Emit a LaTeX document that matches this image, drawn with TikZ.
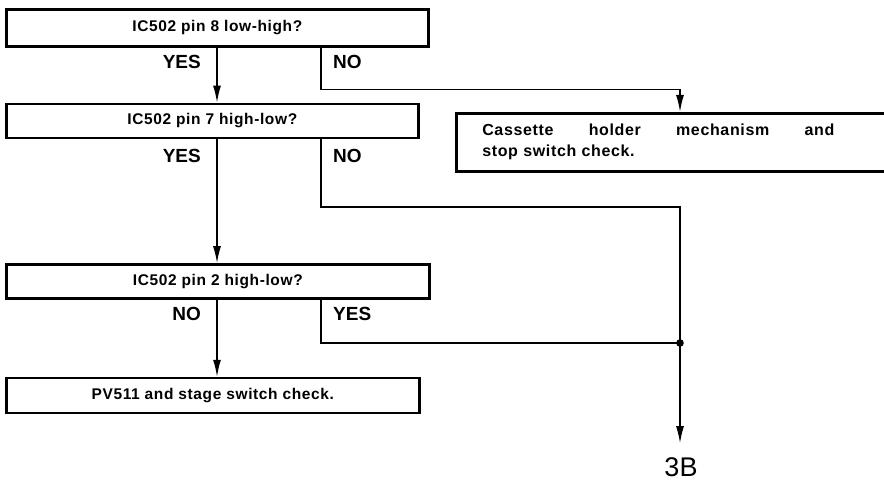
\documentclass[tikz,border=0pt]{standalone}
\usepackage{fontspec}
\setmainfont{Liberation Sans}
\newfontfamily\boxfont[LetterSpace=4]{Liberation Sans}
\usetikzlibrary{positioning, calc, arrows.meta}

\tikzstyle{Box} = [draw, line width=2.6pt, inner sep=0pt,
  font=\boxfont\fontsize{15.5}{21}\selectfont\bfseries]
\tikzstyle{Answer} = [inner sep=0pt, font=\fontsize{19}{21}\selectfont\bfseries]
\tikzstyle{Flow} = [line width=1.5pt, -{Latex[length=17pt, width=8pt]}]
\tikzstyle{Branch} = [line width=1.5pt]

\begin{document}
\begin{tikzpicture}[x=1pt, y=-1pt]
    \useasboundingbox (0,0) rectangle (884,484);
    \clip (0,0) rectangle (884,484);

    \node [Box, anchor=north west, minimum width=422pt, minimum height=37pt]
      (1) at (5,8) {IC502 pin 8 low-high?};
    \node [Box, below=55pt of 1.south west, anchor=north west,
      minimum width=412pt, minimum height=34pt] (2) {IC502 pin 7 high-low?};
    \node [Box, below=124pt of 2.south west, anchor=north west,
      minimum width=423pt, minimum height=34pt] (3) {IC502 pin 2 high-low?};
    \node [Box, below=77pt of 3.south west, anchor=north west,
      minimum width=413pt, minimum height=35pt] (4) {PV511 and stage switch check.};
    % first line spread out to the full width
    \node [Box, anchor=north west, text width=412pt, inner xsep=26pt,
      minimum height=58pt, align=left,
      font=\boxfont\fontsize{16}{21}\selectfont\bfseries] (5) at (455,112)
      {\hbox to 352pt{Cassette\hfill holder\hfill mechanism\hfill and}\\stop switch check.};
    \node [inner sep=0pt, font=\fontsize{27}{29}\selectfont] (6) at (681,467) {3B};

    % main column, branch column and the joint above 3B
    \coordinate (m) at (217,0);
    \coordinate (b) at (321,0);
    \coordinate (r) at (680,0);
    \coordinate (j) at (680,343);
    \coordinate (n1) at (1.south -| b);
    \coordinate (n2) at (2.south -| b);
    \coordinate (n3) at (3.south -| b);

    \node [Answer, below left=7pt and 16pt of 1.south -| m] (y1) {YES};
    \node [Answer, below right=7pt and 12pt of n1] (o1) {NO};
    \node [Answer, below left=10pt and 16pt of 2.south -| m] (y2) {YES};
    \node [Answer, below right=10pt and 12pt of n2] (o2) {NO};
    \node [Answer, below left=7pt and 16pt of 3.south -| m] (o3) {NO};
    \node [Answer, below right=7pt and 12pt of n3] (y3) {YES};

    \draw[Flow] (1.south -| m) -- (2.north -| m);
    \draw[Flow] (2.south -| m) -- (3.north -| m);
    \draw[Flow] (3.south -| m) -- (4.north -| m);
    \draw[Flow] (n1) -- ++(0,42) -| (5.north -| r);
    \draw[Branch] (n2) -- ++(0,68) -| (j);
    \draw[Branch] (n3) |- (j);
    \draw[Flow, shorten >=14pt] (j) -- (6.north -| j);
    \fill (j) circle (3.8pt);
\end{tikzpicture}
\end{document}
